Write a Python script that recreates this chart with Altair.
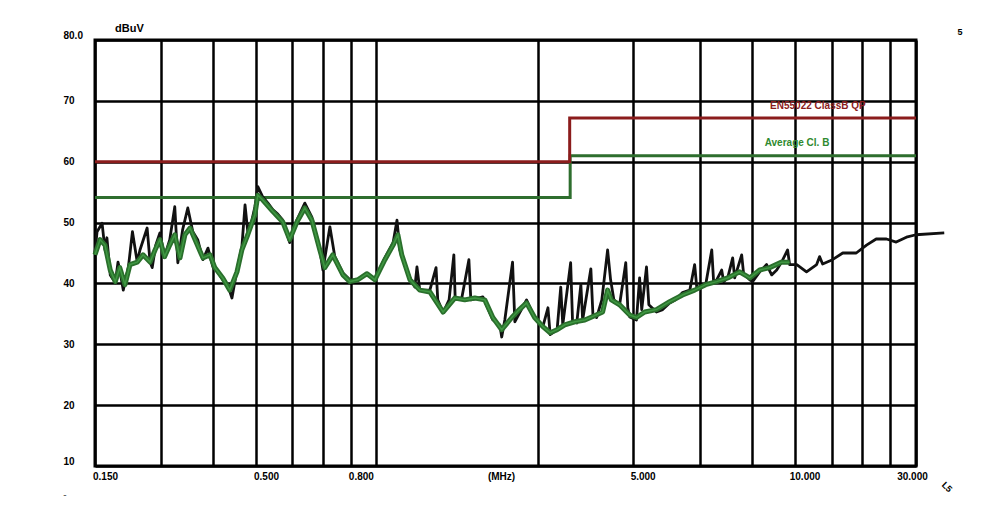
import altair as alt
import pandas as pd

# ---- emission trace (peak, black) ----
pk_f = [0.150, 0.152, 0.157, 0.160, 0.162, 0.1655, 0.171, 0.174, 0.176, 0.180, 0.186, 0.191, 0.197, 0.2005,
        0.210, 0.214, 0.217, 0.222, 0.228, 0.235, 0.243, 0.251, 0.256, 0.264, 0.273, 0.282, 0.291, 0.301,
        0.311, 0.321, 0.331, 0.342, 0.353, 0.363, 0.375, 0.387, 0.395, 0.402, 0.413, 0.421, 0.429, 0.443,
        0.458, 0.473, 0.488, 0.504, 0.527, 0.552, 0.581, 0.608, 0.640, 0.653, 0.683, 0.705, 0.743, 0.777,
        0.818, 0.868, 0.913, 0.974, 1.027, 1.053, 1.073, 1.145, 1.182, 1.198, 1.220, 1.302, 1.355, 1.370,
        1.418, 1.474, 1.52, 1.533, 1.60, 1.675, 1.696, 1.833, 1.955, 2.045, 2.07, 2.112, 2.22, 2.253, 2.43,
        2.56, 2.70, 2.79, 2.83, 2.96, 3.03, 3.07, 3.23, 3.27, 3.36, 3.45, 3.49, 3.68, 3.73, 3.82, 3.95, 4.10,
        4.18, 4.27, 4.43, 4.61, 4.67, 4.73, 4.94, 5.04, 5.11, 5.27, 5.35, 5.62, 5.85, 6.12, 6.36, 6.65, 6.97,
        7.19, 7.29, 7.72, 8.03, 8.13, 8.29, 8.56, 8.67, 8.90, 9.19, 9.31, 9.74, 9.86, 10.26, 10.45, 10.94,
        11.44, 11.82, 12.21, 12.6, 13.1, 13.27, 13.9, 14.8, 15.8, 16.1, 16.42, 17.5, 18.7, 20.4, 21.8, 23.2,
        24.8, 26.4, 28.2, 30.0, 36.0]
pk_v = [45.0, 48.5, 49.9, 45.5, 47.5, 41.4, 40.1, 43.5, 42.2, 38.9, 42.6, 48.5, 43.5, 45.5,
        49.1, 43.5, 42.6, 46.3, 48.3, 44.4, 47.2, 52.6, 43.4, 48.8, 52.4, 48.5, 47.2, 43.9,
        45.8, 42.7, 41.9, 40.6, 39.8, 37.6, 42.2, 46.0, 52.9, 48.5, 50.4, 52.6, 55.9, 54.2,
        53.2, 52.1, 51.4, 50.4, 46.7, 50.4, 53.2, 50.9, 45.5, 42.2, 49.3, 44.4, 41.7, 40.6,
        40.6, 41.7, 40.6, 44.2, 46.7, 50.4, 45.5, 40.9, 39.4, 42.7, 38.9, 38.9, 42.6, 37.3,
        35.2, 37.3, 44.7, 37.6, 37.6, 43.9, 37.3, 37.8, 34.0, 33.2, 31.2, 34.0, 43.5, 33.7, 37.3,
        34.4, 32.9, 36.0, 31.6, 32.4, 39.4, 33.2, 43.4, 33.7, 33.5, 39.8, 34.0, 42.4, 34.8, 34.4, 37.3, 45.5,
        40.6, 37.3, 36.5, 43.4, 36.0, 34.5, 34.0, 40.9, 35.7, 42.7, 36.5, 35.3, 35.7, 36.8, 37.3, 38.5, 38.9,
        43.1, 39.3, 39.8, 45.5, 40.1, 40.6, 42.2, 40.3, 40.9, 44.2, 40.9, 44.7, 41.6, 40.6, 40.3, 41.9,
        43.1, 41.4, 42.2, 43.5, 45.5, 43.1, 43.1, 41.9, 43.1, 44.4, 43.2, 43.9, 45.0, 45.0, 46.3, 47.3,
        47.3, 46.8, 47.6, 48.0, 48.3]

# ---- emission trace (average, green) ----
av_f = [0.150, 0.155, 0.160, 0.1655, 0.171, 0.176, 0.182, 0.188, 0.197, 0.2045, 0.214, 0.221, 0.228, 0.235,
        0.243, 0.251, 0.2596, 0.268, 0.277, 0.286, 0.301, 0.315, 0.325, 0.342, 0.358, 0.375, 0.387, 0.402,
        0.421, 0.429, 0.443, 0.473, 0.504, 0.527, 0.552, 0.581, 0.608, 0.640, 0.661, 0.696, 0.743, 0.777,
        0.818, 0.868, 0.913, 0.974, 1.027, 1.059, 1.086, 1.145, 1.220, 1.302, 1.418, 1.529, 1.631, 1.740,
        1.856, 1.955, 2.07, 2.21, 2.32, 2.43, 2.56, 2.70, 2.83, 2.96, 3.11, 3.32, 3.54, 3.77, 3.97, 4.10,
        4.20, 4.43, 4.73, 4.94, 5.21, 5.62, 6.12, 6.65, 7.19, 7.72, 8.29, 8.90, 9.61, 10.26, 10.94, 11.67,
        12.6, 13.27]
av_v = [44.7, 47.2, 46.3, 42.2, 40.3, 42.6, 39.8, 43.1, 43.5, 44.7, 43.5, 45.5, 47.2, 44.4,
        46.3, 48.0, 44.2, 48.0, 49.1, 47.2, 44.2, 44.7, 42.6, 40.9, 38.9, 41.9, 45.5, 48.0,
        51.3, 54.5, 53.7, 51.8, 50.1, 47.2, 50.1, 52.4, 50.4, 45.5, 42.6, 44.7, 41.4, 40.3,
        40.6, 41.6, 40.6, 43.9, 46.3, 48.0, 44.7, 40.6, 38.9, 38.6, 35.3, 37.6, 37.3, 37.6,
        37.3, 34.4, 32.4, 34.4, 35.7, 36.8, 34.4, 32.9, 31.9, 32.4, 33.2, 33.7, 34.0, 34.7, 35.3, 38.9,
        37.3, 36.5, 34.8, 34.4, 35.3, 35.7, 37.0, 38.1, 38.9, 39.8, 40.3, 40.9, 41.9, 40.9, 42.2, 42.6,
        43.5, 43.5]

# ---- limit lines ----
qp_f = [0.15, 3.21, 3.21, 30.0]
qp_v = [60.0, 60.0, 67.2, 67.2]
avl_f = [0.15, 3.22, 3.22, 30.0]
avl_v = [54.1, 54.1, 61.0, 61.0]

# ---- axes ----
x_grid = [0.15, 0.23, 0.321, 0.424, 0.534, 0.652, 0.782, 0.918, 2.61, 4.82, 7.43, 10.4, 13.7, 17.4,
          21.2, 25.3, 30.0]
x_labels = {0.15: "0.150", 0.424: "0.500", 0.782: "0.800", 4.82: "5.000", 13.7: "10.000", 30.0: "30.000"}
y_ticks = [10, 20, 30, 40, 50, 60, 70, 80]

legend_txt = ["EN55022 ClassB QP", "Average Cl. B"]
legend_f = [11.7, 11.3]
legend_v = [69.1, 63.1]
legend_col = ["#8b1c1c", "#2f8a2f"]

pk = pd.DataFrame({"f": pk_f, "v": pk_v, "i": range(len(pk_f))})
av = pd.DataFrame({"f": av_f, "v": av_v, "i": range(len(av_f))})
qp = pd.DataFrame({"f": qp_f, "v": qp_v, "i": range(4)})
avl = pd.DataFrame({"f": avl_f, "v": avl_v, "i": range(4)})
leg = pd.DataFrame({"f": legend_f, "v": legend_v, "t": legend_txt, "c": legend_col})

expr_parts = []
for k, s in x_labels.items():
    expr_parts.append(f"abs(datum.value - {k}) < 0.005 ? '{s}'")
label_expr = " : ".join(expr_parts) + " : ''"

X = alt.X("f:Q",
          scale=alt.Scale(type="log", domain=[0.15, 30], nice=False),
          axis=alt.Axis(values=x_grid, grid=True, gridColor="black", gridWidth=2.5, gridOpacity=1,
                        ticks=False, domain=False, labelExpr=label_expr,
                        labelFont="Liberation Sans", labelFontWeight="bold", labelFontSize=10,
                        labelColor="black", labelPadding=5, labelFlush=False, labelOverlap=False,
                        labelBound=False,
                        labelOffset={"condition": {"test": "datum.value >= 29", "value": -4}, "value": 10},
                        title="(MHz)", titleX=406, titleY=10, titleBaseline="middle",
                        titleFont="Liberation Sans", titleFontWeight="bold", titleFontSize=10,
                        titleColor="black"))
Y = alt.Y("v:Q",
          scale=alt.Scale(domain=[10, 80], nice=False, zero=False),
          axis=alt.Axis(values=y_ticks, grid=True, gridColor="black", gridWidth=2.5, gridOpacity=1,
                        ticks=False, domain=False,
                        labelExpr="datum.value == 80 ? '80.0' : datum.value",
                        labelFont="Liberation Sans", labelFontWeight="bold", labelFontSize=10,
                        labelColor="black", labelAlign="left", labelPadding=32,
                        labelBaseline={"condition": {"test": "datum.value == 80 || datum.value == 10",
                                                     "value": "bottom"}, "value": "middle"},
                        title=None))

peak = alt.Chart(pk).mark_line(color="#111111", strokeWidth=2.8, strokeJoin="round", clip=False).encode(
    x=X, y=Y, order="i:Q")
avg = alt.Chart(av).mark_line(color="#2a6f2c", strokeWidth=5, strokeJoin="round").encode(
    x=X, y=Y, order="i:Q")
avg_hi = alt.Chart(av).mark_line(color="#43a047", strokeWidth=1.5, opacity=0.85).encode(
    x=X, y=Y, order="i:Q")
qp_line = alt.Chart(qp).mark_line(color="#8b1c1c", strokeWidth=3).encode(x=X, y=Y, order="i:Q")
av_line = alt.Chart(avl).mark_line(color="#2e6e2e", strokeWidth=3).encode(x=X, y=Y, order="i:Q")
leg_txt = alt.Chart(leg).mark_text(align="left", baseline="middle", font="Liberation Sans",
                                   fontWeight="bold", fontSize=10).encode(
    x=X, y=Y, text="t:N", color=alt.Color("c:N", scale=None))

unit = alt.Chart(pd.DataFrame({"t": ["dBuV"]})).mark_text(
    align="left", baseline="middle", font="Liberation Sans", fontWeight="bold", fontSize=11,
    color="black").encode(x=alt.value(20), y=alt.value(-11), text="t:N")
page = alt.Chart(pd.DataFrame({"t": ["5"]})).mark_text(
    align="center", baseline="middle", font="Liberation Sans", fontWeight="bold", fontSize=9,
    color="black").encode(x=alt.value(865), y=alt.value(-8), text="t:N")
corner = alt.Chart(pd.DataFrame({"t": ["L5"]})).mark_text(
    align="center", baseline="middle", font="Liberation Sans", fontWeight="bold", fontSize=9,
    angle=45, color="black").encode(x=alt.value(852), y=alt.value(447), text="t:N")
dash = alt.Chart(pd.DataFrame({"t": ["-"]})).mark_text(
    align="center", baseline="middle", font="Liberation Sans", fontSize=10,
    color="#555555").encode(x=alt.value(-30), y=alt.value(455), text="t:N")

chart = alt.layer(av_line, qp_line, peak, avg, avg_hi, leg_txt, unit, page, corner, dash).properties(
    width=821, height=426, background="white",
    autosize=alt.AutoSizeParams(type="none"),
    padding={"left": 87, "top": 32, "right": 60, "bottom": 40},
).configure_view(stroke="black", strokeWidth=3)

chart.save("out.html", embed_options={"renderer": "svg", "actions": False})
